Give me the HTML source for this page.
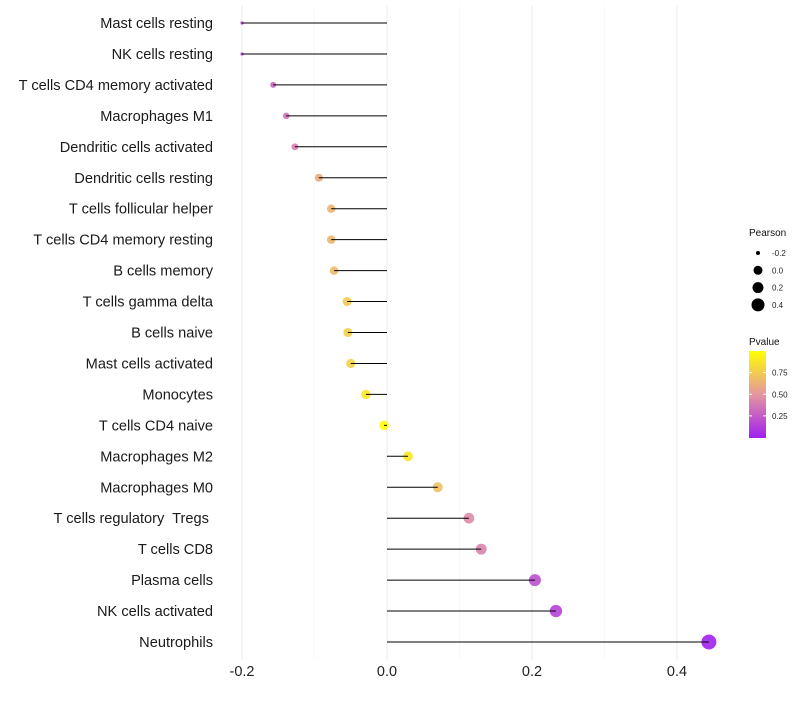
<!DOCTYPE html>
<html><head><meta charset="utf-8"><style>
body{margin:0;background:#fff;font-family:"Liberation Sans",sans-serif;}
svg text{font-family:"Liberation Sans",sans-serif;white-space:pre;}
</style></head><body>
<svg id="chart" width="800" height="700"></svg>
<script>
const categories=["Mast cells resting","NK cells resting","T cells CD4 memory activated","Macrophages M1","Dendritic cells activated","Dendritic cells resting","T cells follicular helper","T cells CD4 memory resting","B cells memory","T cells gamma delta","B cells naive","Mast cells activated","Monocytes","T cells CD4 naive","Macrophages M2","Macrophages M0","T cells regulatory  Tregs ","T cells CD8","Plasma cells","NK cells activated","Neutrophils"];
const pearson=[-0.2,-0.2,-0.157,-0.139,-0.127,-0.094,-0.077,-0.077,-0.073,-0.055,-0.054,-0.05,-0.029,-0.004,0.029,0.070,0.113,0.130,0.204,0.233,0.444];
const pvalue=[0.1,0.1,0.3,0.35,0.4,0.6,0.65,0.65,0.67,0.75,0.76,0.78,0.88,0.99,0.88,0.7,0.45,0.42,0.2,0.15,0.002];
const xTicks=[-0.2,0,0.2,0.4];
const xTickLabels=["-0.2","0.0","0.2","0.4"];
const minorTicks=[-0.1,0.1,0.3];
const sizeLegend=[-0.2,0,0.2,0.4];
const pLegendTicks=[0.25,0.5,0.75];

const NS="http://www.w3.org/2000/svg";
const svg=document.getElementById('chart');
function el(tag,attrs,parent){const e=document.createElementNS(NS,tag);for(const k in attrs)e.setAttribute(k,attrs[k]);(parent||svg).appendChild(e);return e;}
const xS=v=>387+v*725;
const yS=i=>23+i*30.95;
// size scale (domain -> radius)
const sizeDom=[-0.2,-0.157,-0.094,-0.05,0.07,0.2,0.444];
const sizeRng=[1.6,3,4,4.6,5,6,7.5];
function rS(v){if(v<=sizeDom[0])return sizeRng[0];for(let k=1;k<sizeDom.length;k++){if(v<=sizeDom[k]){const t=(v-sizeDom[k-1])/(sizeDom[k]-sizeDom[k-1]);return sizeRng[k-1]+t*(sizeRng[k]-sizeRng[k-1]);}}return sizeRng[sizeRng.length-1];}
function hex(c){return[parseInt(c.slice(1,3),16),parseInt(c.slice(3,5),16),parseInt(c.slice(5,7),16)];}
const stops=[[0,hex("#A020F0")],[0.5,hex("#E496A0")],[1,hex("#FFFF00")]];
function col(p){p=Math.max(0,Math.min(1,p));let a=stops[0],b=stops[1];if(p>0.5){a=stops[1];b=stops[2];}const t=(p-a[0])/(b[0]-a[0]);const c=a[1].map((x,i)=>Math.round(x+(b[1][i]-x)*t));return`rgb(${c.join(',')})`;}

minorTicks.forEach(v=>{const g=el('line',{x1:xS(v),x2:xS(v),y1:5,y2:660,stroke:'#f3f3f3','stroke-width':0.6});

});
xTicks.forEach((v,i)=>{const g=el('line',{x1:xS(v),x2:xS(v),y1:5,y2:660,stroke:'#ebebeb','stroke-width':1});


const t=el('text',{x:xS(v),y:676,'text-anchor':'middle','font-size':14.5,fill:'#222'});t.textContent=xTickLabels[i];

});

categories.forEach((c,i)=>{
const y=yS(i);
const t=el('text',{x:213,y:y+5,'text-anchor':'end','font-size':14.6,fill:'#1a1a1a'});t.textContent=c;


const p=el('circle',{cx:xS(pearson[i]),cy:y,r:rS(pearson[i]),fill:col(pvalue[i]),'fill-opacity':0.9});


const l=el('line',{x1:xS(0),x2:xS(pearson[i]),y1:y,y2:y,stroke:'#000','stroke-width':1});


});

let t=el('text',{x:749,y:236,'font-size':10,fill:'#111'});t.textContent='Pearson';


const legR=[2,4.5,5.5,6.5];
sizeLegend.forEach((v,i)=>{const y=253+i*17.3;
const c=el('circle',{cx:758,cy:y,r:legR[i],fill:'#000'});


const tx=el('text',{x:772,y:y+3,'font-size':8,fill:'#222'});tx.textContent=xTickLabels[i];

});
t=el('text',{x:749,y:345,'font-size':10,fill:'#111'});t.textContent='Pvalue';


const defs=el('defs',{});const lg=el('linearGradient',{id:'pg',x1:0,y1:1,x2:0,y2:0},defs);
[[0,'#A020F0'],[0.5,'#E496A0'],[1,'#FFFF00']].forEach(s=>el('stop',{offset:s[0],'stop-color':s[1]},lg));
const bar=el('rect',{x:749,y:351,width:17,height:87,fill:'url(#pg)'});


const pY=p=>437.5-p*86.5;
pLegendTicks.forEach(p=>{el('line',{x1:749,x2:752,y1:pY(p),y2:pY(p),stroke:'#fff'});el('line',{x1:763,x2:766,y1:pY(p),y2:pY(p),stroke:'#fff'});
const tx=el('text',{x:772,y:pY(p)+3,'font-size':8,fill:'#222'});tx.textContent=p.toFixed(2);

});
</script>
</body></html>
